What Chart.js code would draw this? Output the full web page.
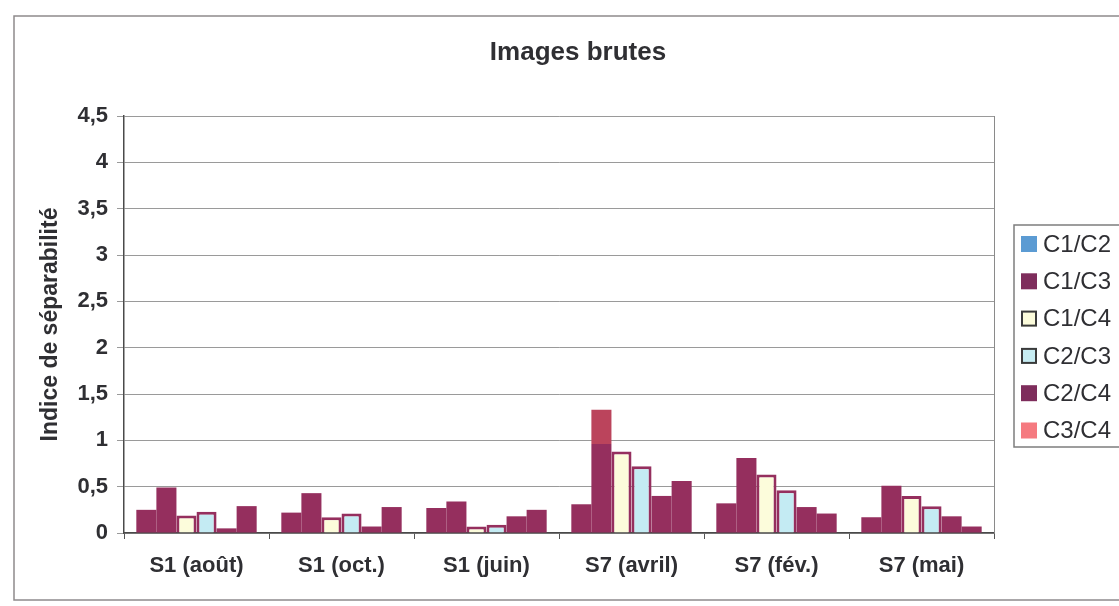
<!DOCTYPE html>
<html lang="fr">
<head>
<meta charset="utf-8">
<title>Images brutes</title>
<script src="https://cdn.jsdelivr.net/npm/chart.js@4.4.1/dist/chart.umd.min.js"></script>
<style>
  html, body { margin: 0; padding: 0; background: #fff; overflow: hidden; }
  #separability-chart { display: block; }
</style>
</head>
<body>
<canvas id="separability-chart" width="1119" height="606"></canvas>
<script>
const categories = ["S1 (août)", "S1 (oct.)", "S1 (juin)", "S7 (avril)", "S7 (fév.)", "S7 (mai)"];
const seriesLabels = ["C1/C2", "C1/C3", "C1/C4", "C2/C3", "C2/C4", "C3/C4"];

const c1c2 = [0.25, 0.22, 0.27, 0.31, 0.32, 0.17];
const c1c3 = [0.49, 0.43, 0.34, 1.33, 0.81, 0.51];
const c1c4 = [0.19, 0.17, 0.07, 0.88, 0.63, 0.4];
const c2c3 = [0.23, 0.21, 0.09, 0.72, 0.46, 0.29];
const c2c4 = [0.05, 0.07, 0.18, 0.4, 0.28, 0.18];
const c3c4 = [0.29, 0.28, 0.25, 0.56, 0.21, 0.07];

// lower, darker part of the C1/C3 bar for S7 (avril)
const c1c3AprilLower = 0.96;

const tickValues = [0, 0.5, 1, 1.5, 2, 2.5, 3, 3.5, 4, 4.5];

const FONT = "'Liberation Sans', Arial, sans-serif";
const MAROON = "#952f5e";
const PINK_TOP = "#bb445c";
const TEXT = "#2f2f33";

// colours of the legend keys
const legendFill = ["#5b9bd3", "#7e2d5c", "#fcfcdb", "#c6ecf2", "#7e2d5c", "#f57a80"];
const legendStroke = [null, null, "#3a3a3a", "#3a3a3a", null, null];

function c1c3Color(ctx) {
  const chart = ctx.chart;
  if (ctx.dataIndex !== 3 || !chart.chartArea) return MAROON;
  const y = chart.scales.y;
  const y0 = y.getPixelForValue(0);
  const y1 = y.getPixelForValue(c1c3[3]);
  const g = chart.ctx.createLinearGradient(0, y0, 0, y1);
  const stop = c1c3AprilLower / c1c3[3];
  g.addColorStop(0, MAROON);
  g.addColorStop(stop, MAROON);
  g.addColorStop(stop, PINK_TOP);
  g.addColorStop(1, PINK_TOP);
  return g;
}

// outer frame, title, plot border and the boxed legend on the right
const decorations = {
  id: "decorations",
  beforeDraw(chart) {
    const ctx = chart.ctx;
    ctx.save();
    ctx.fillStyle = "#fff";
    ctx.fillRect(0, 0, chart.width, chart.height);
    ctx.strokeStyle = "#8e8a8c";
    ctx.lineWidth = 1.5;
    ctx.strokeRect(14, 16, 1130, 584);
    ctx.restore();
  },
  beforeDatasetsDraw(chart) {
    const { ctx, chartArea } = chart;
    ctx.save();
    ctx.strokeStyle = "#8a8a8a";
    ctx.lineWidth = 1;
    ctx.beginPath();
    ctx.moveTo(chartArea.right + 0.5, chartArea.top);
    ctx.lineTo(chartArea.right + 0.5, chartArea.bottom);
    ctx.stroke();
    ctx.restore();
  },
  afterDraw(chart) {
    const ctx = chart.ctx;
    ctx.save();
    ctx.fillStyle = TEXT;
    ctx.font = "bold 26px " + FONT;
    ctx.textAlign = "center";
    ctx.textBaseline = "middle";
    ctx.fillText("Images brutes", 578, 53);

    // legend box
    ctx.strokeStyle = "#7d7d7d";
    ctx.lineWidth = 1.5;
    ctx.strokeRect(1014, 225, 130, 222);
    ctx.font = "24px " + FONT;
    ctx.textAlign = "left";
    chart.data.datasets.forEach((ds, i) => {
      const cy = 244 + i * 37.3;
      ctx.fillStyle = legendFill[i];
      ctx.fillRect(1021, cy - 8, 16, 16);
      if (legendStroke[i]) {
        ctx.strokeStyle = legendStroke[i];
        ctx.lineWidth = 2;
        ctx.strokeRect(1022, cy - 7, 14, 14);
      }
      ctx.fillStyle = TEXT;
      ctx.fillText(ds.label, 1043, cy + 1);
    });
    ctx.restore();
  }
};

function createChart() {
  const ctx = document.getElementById("separability-chart").getContext("2d");
  const values = [c1c2, c1c3, c1c4, c2c3, c2c4, c3c4];
  const fills = [MAROON, c1c3Color, "#fcfcdb", "#c4ebf3", MAROON, MAROON];
  const borders = [0, 0, 3, 3, 0, 0];

  new Chart(ctx, {
    type: "bar",
    data: {
      labels: categories,
      datasets: seriesLabels.map((label, i) => ({
        label: label,
        data: values[i],
        backgroundColor: fills[i],
        borderColor: MAROON,
        borderWidth: borders[i],
        categoryPercentage: 0.83,
        barPercentage: 1,
      })),
    },
    options: {
      responsive: false,
      animation: false,
      layout: { padding: { top: 116, right: 125, bottom: 0, left: 0 } },
      plugins: {
        legend: { display: false },
        title: { display: false },
        tooltip: { enabled: false },
      },
      scales: {
        x: {
          afterFit: (scale) => { scale.height = 73; },
          grid: {
            drawOnChartArea: false,
            drawTicks: true,
            tickLength: 6,
            color: "#555",
          },
          border: { color: "#4a4a4a", width: 1.5 },
          ticks: {
            color: TEXT,
            padding: 14,
            font: { family: FONT, size: 22, weight: "bold" },
          },
        },
        y: {
          min: 0,
          max: 4.5,
          afterFit: (scale) => { scale.width = 124; },
          afterBuildTicks: (scale) => {
            scale.ticks = tickValues.map((v) => ({ value: v }));
          },
          grid: {
            color: "rgba(120,120,120,0.75)",
            lineWidth: 1,
            tickLength: 7,
          },
          border: { color: "#4a4a4a", width: 1.5 },
          ticks: {
            color: TEXT,
            padding: 9,
            font: { family: FONT, size: 22, weight: "bold" },
            callback: (value) => String(value).replace(".", ","),
          },
          title: {
            display: true,
            text: "Indice de séparabilité",
            color: TEXT,
            padding: { top: 37, bottom: 0 },
            font: { family: FONT, size: 23, weight: "bold" },
          },
        },
      },
    },
    plugins: [decorations],
  });
}

document.addEventListener("DOMContentLoaded", () => {
  createChart();
});
</script>
</body>
</html>
